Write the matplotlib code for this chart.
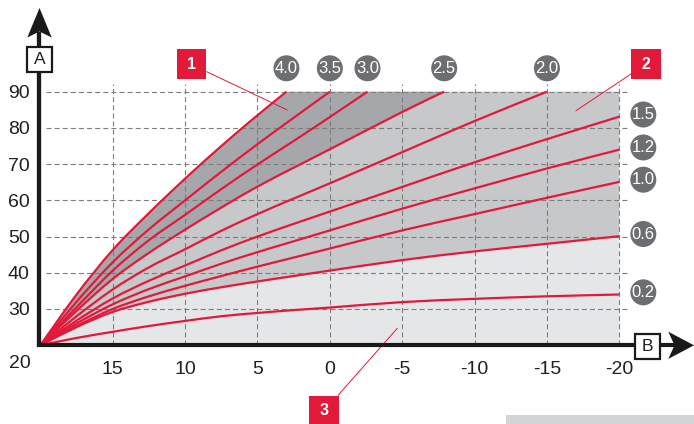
import numpy as np
import matplotlib
matplotlib.use("Agg")
import matplotlib.pyplot as plt
from matplotlib.path import Path
from matplotlib.patches import Ellipse, Rectangle, Polygon, PathPatch

# heating curves: outdoor temperature (B) -> flow temperature (A)
c40_x = [20, 17.5, 15, 12.5, 10, 7.5, 5, 3.0]
c40_y = [20, 34.0, 46.3, 56.5, 66.0, 75.0, 83.5, 90]
c35_x = [20, 17.5, 15, 12.5, 10, 7.5, 5, 2.5, 0]
c35_y = [20, 32.0, 42.9, 52.0, 60.0, 67.9, 75.5, 82.8, 90]
c30_x = [20, 17.5, 15, 12.5, 10, 7.5, 5, 2.5, 0, -2.6]
c30_y = [20, 30.5, 40.6, 49.0, 56.0, 63.1, 69.9, 76.4, 83.0, 90]
c25_x = [20, 17.5, 15, 12.5, 10, 7.5, 5, 2.5, 0, -5, -7.9]
c25_y = [20, 29.5, 38.3, 45.5, 51.9, 58.0, 63.8, 69.0, 74.1, 84.4, 90]
c20_x = [20, 17.5, 15, 12.5, 10, 7.5, 5, 2.5, 0, -5, -10, -15]
c20_y = [20, 28.0, 35.4, 41.5, 46.5, 51.6, 56.2, 60.5, 64.7, 73.3, 81.9, 90]
full_x = [20, 17.5, 15, 12.5, 10, 7.5, 5, 2.5, 0, -5, -10, -15, -20]
c15_y = [20, 26.8, 32.9, 37.8, 42.0, 46.2, 50.0, 53.5, 56.9, 63.7, 70.5, 76.9, 83.1]
c12_y = [20, 26.0, 31.3, 35.5, 39.0, 42.5, 45.7, 48.7, 51.7, 57.7, 63.3, 68.8, 74.0]
c10_y = [20, 25.3, 30.0, 33.5, 36.4, 39.1, 41.7, 44.2, 46.7, 51.7, 56.2, 60.7, 65.1]
c06_y = [20, 25.0, 29.2, 32.0, 34.2, 36.0, 37.6, 39.1, 40.6, 43.5, 45.9, 48.0, 50.1]
c02_y = [20, 22.0, 23.7, 25.3, 26.7, 28.0, 28.9, 29.7, 30.4, 31.9, 32.8, 33.5, 34.0]

top_labels = ["4.0", "3.5", "3.0", "2.5", "2.0"]
right_labels = ["1.5", "1.2", "1.0", "0.6", "0.2"]
x_ticks = [15, 10, 5, 0, -5, -10, -15, -20]
y_ticks = [30, 40, 50, 60, 70, 80, 90]

RED = "#e3193a"
DARK = "#a6a7aa"
MID = "#c7c8ca"
LIGHT = "#e5e6e7"
BADGE = "#6d6e71"
INK = "#231f20"

W, H = 694, 424
fig = plt.figure(figsize=(W / 100, H / 100), dpi=100)
ax = fig.add_axes([0, 0, 1, 1])
sx = (619.3 - 40.4) / 40.0   # px per degree on B
sy = (345.2 - 91.7) / 70.0   # px per degree on A
ax.set_xlim(20 + 40.4 / sx, 20 - (W - 40.4) / sx)
ax.set_ylim(20 - (H - 345.2) / sy, 20 + 345.2 / sy)
ax.axis("off")


def px(p):
    return 20 - (p - 40.4) / sx


def py(p):
    return 20 + (345.2 - p) / sy


def smooth(xs, ys):
    # bezier control points through the read points (catmull-rom style)
    pts = np.column_stack([xs, ys]).astype(float)
    n = len(pts)
    verts = [pts[0]]
    for i in range(n - 1):
        p0 = pts[i - 1] if i > 0 else pts[i]
        p1, p2 = pts[i], pts[i + 1]
        p3 = pts[i + 2] if i + 2 < n else pts[i + 1]
        verts += [p1 + (p2 - p0) / 6, p2 - (p3 - p1) / 6, p2]
    return np.array(verts)


def region(*segs):
    verts, codes = [], []
    for kind, v in segs:
        if kind == "curve":
            verts.append(v[0])
            codes.append(Path.LINETO if verts[:-1] else Path.MOVETO)
            verts.extend(v[1:])
            codes.extend([Path.CURVE4] * (len(v) - 1))
        else:
            verts.append(v)
            codes.append(Path.LINETO)
    verts.append(verts[0])
    codes.append(Path.CLOSEPOLY)
    return Path(verts, codes)


b40 = smooth(c40_x, c40_y)
b25 = smooth(c25_x, c25_y)
b06 = smooth(full_x, c06_y)

# shaded zones
ax.add_patch(PathPatch(region(("curve", b40), ("curve", b25[::-1])),
                       fc=DARK, lw=0, zorder=1))
ax.add_patch(PathPatch(region(("curve", b25), ("line", (-20, 90)), ("curve", b06[::-1])),
                       fc=MID, lw=0, zorder=1))
ax.add_patch(PathPatch(region(("curve", b06), ("line", (-20, 20)), ("line", (20, 20))),
                       fc=LIGHT, lw=0, zorder=1))

# dashed grid
for yv in y_ticks:
    ax.plot([px(46), px(627)], [yv, yv], color="#7d7d7d", lw=0.8,
            dashes=(4.5, 2.8), zorder=2)
for xv in x_ticks:
    ax.plot([xv, xv], [20, py(84)], color="#7d7d7d", lw=0.8,
            dashes=(4.5, 2.8), zorder=2)

# curves
for xs, ys in [(c40_x, c40_y), (c35_x, c35_y), (c30_x, c30_y), (c25_x, c25_y),
               (c20_x, c20_y), (full_x, c15_y), (full_x, c12_y), (full_x, c10_y),
               (full_x, c06_y), (full_x, c02_y)]:
    v = smooth(xs, ys)
    p = Path(v, [Path.MOVETO] + [Path.CURVE4] * (len(v) - 1))
    ax.add_patch(PathPatch(p, fc="none", ec=RED, lw=1.6, zorder=3))

# badges
bw, bh = 26 / sx, 26 / sy
for lab, xs in zip(top_labels, [c40_x, c35_x, c30_x, c25_x, c20_x]):
    ax.add_patch(Ellipse((xs[-1], py(68.3)), bw, bh, fc=BADGE, ec="none", zorder=5))
    ax.text(xs[-1], py(68.3), lab, color="white", fontsize=12, ha="center",
            va="center", family="Liberation Sans", zorder=6)
for lab, ys in zip(right_labels, [c15_y, c12_y, c10_y, c06_y, c02_y]):
    ax.add_patch(Ellipse((px(643.3), ys[-1] + 0.6), bw, bh, fc=BADGE, ec="none", zorder=5))
    ax.text(px(643.3), ys[-1] + 0.6, lab, color="white", fontsize=12, ha="center",
            va="center", family="Liberation Sans", zorder=6)

# tick labels
for yv in y_ticks:
    ax.text(px(29.5), yv, str(yv), fontsize=14, ha="right", va="center_baseline",
            color=INK, family="Liberation Sans")
for xv in x_ticks:
    ax.text(xv, py(367), str(xv), fontsize=14, ha="center", va="center_baseline",
            color=INK, family="Liberation Sans")
ax.text(px(20), py(361), "20", fontsize=14, ha="center", va="center_baseline",
        color=INK, family="Liberation Sans")

# axes with arrows
ax.plot([px(39.5), px(39.5)], [py(347.3), py(32)], color="#1a1a1a", lw=3.1,
        solid_capstyle="butt", zorder=7)
ax.plot([px(37.5), px(675)], [py(345.3), py(345.3)], color="#1a1a1a", lw=3.0,
        solid_capstyle="butt", zorder=7)
ax.add_patch(Polygon([(px(39.5), py(8)), (px(27.3), py(37.5)), (px(39.5), py(31.5)),
                      (px(51.7), py(37.5))], closed=True, fc="#1a1a1a", ec="none", zorder=8))
ax.add_patch(Polygon([(px(694), py(345.3)), (px(668.3), py(331.7)), (px(674.5), py(345.3)),
                      (px(668.3), py(358.9))], closed=True, fc="#1a1a1a", ec="none", zorder=8))

# A / B boxes (x runs right-to-left, so anchor on the right edge)
for cx, cy, lab in [(40, 59.7, "A"), (647, 346.3, "B")]:
    ax.add_patch(Rectangle((px(cx + 12.5), py(cy + 12.5)), 25 / sx, 25 / sy,
                           fc="white", ec="#1a1a1a", lw=1.6, zorder=9))
    ax.text(px(cx), py(cy), lab, fontsize=12.5, ha="center", va="center",
            color=INK, family="Liberation Sans", zorder=10)

# red callouts
for cx, cy, lab, (x0, y0), (x1, y1) in [
        (191.7, 64.2, "1", (206.7, 71.7), (287.3, 110)),
        (646, 64.2, "2", (631, 74), (576, 110.7)),
        (323.8, 410.7, "3", (338.3, 395), (397.3, 328.3))]:
    ax.plot([px(x0), px(x1)], [py(y0), py(y1)], color=RED, lw=0.7, zorder=4)
    ax.add_patch(Rectangle((px(cx + 14.8), py(cy + 14.8)), 29.6 / sx, 29.6 / sy,
                           fc=RED, ec="none", zorder=9))
    ax.text(px(cx), py(cy), lab, fontsize=11.5, ha="center", va="center",
            color="white", fontweight="bold", family="Liberation Sans", zorder=10)

# grey strip at lower right
ax.add_patch(Rectangle((px(694), py(430)), (694 - 506) / sx, 15 / sy,
                       fc="#d3d4d6", ec="none", zorder=1))

fig.savefig("out.png", dpi=100)
